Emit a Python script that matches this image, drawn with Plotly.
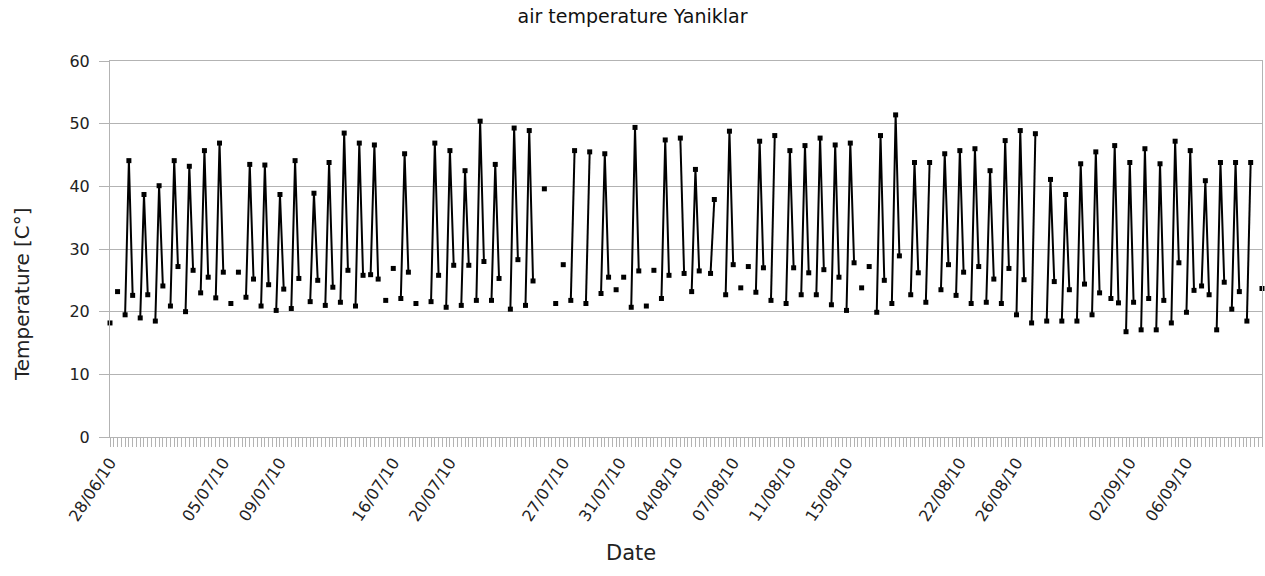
import plotly.graph_objects as go

# Air temperature readings at Yaniklar, one value per reading slot (None = no reading)
temperature = [
    18.2, None, 23.2, None, 19.5, 44.1, 22.6, None, 19.0, 38.7,
    22.7, None, 18.5, 40.1, 24.1, None, 20.9, 44.1, 27.2, None,
    20.0, 43.2, 26.6, None, 23.0, 45.7, 25.5, None, 22.2, 46.9,
    26.3, None, 21.3, None, 26.3, None, 22.3, 43.5, 25.2, None,
    20.9, 43.4, 24.3, None, 20.2, 38.7, 23.6, None, 20.5, 44.1,
    25.3, None, None, 21.6, 38.9, 25.0, None, 21.0, 43.8, 23.9,
    None, 21.5, 48.5, 26.6, None, 20.9, 46.9, 25.8, None, 25.9,
    46.6, 25.2, None, 21.8, None, 26.9, None, 22.1, 45.2, 26.3,
    None, 21.3, None, None, None, 21.6, 46.9, 25.8, None, 20.7,
    45.7, 27.4, None, 21.0, 42.5, 27.4, None, 21.8, 50.4, 28.0,
    None, 21.8, 43.5, 25.3, None, None, 20.4, 49.3, 28.3, None,
    21.0, 48.9, 24.9, None, None, 39.6, None, None, 21.3, None,
    27.5, None, 21.8, 45.7, None, None, 21.3, 45.5, None, None,
    22.9, 45.2, 25.5, None, 23.5, None, 25.5, None, 20.7, 49.4,
    26.5, None, 20.9, None, 26.6, None, 22.1, 47.4, 25.8, None,
    None, 47.7, 26.1, None, 23.2, 42.7, 26.5, None, None, 26.1,
    37.9, None, None, 22.7, 48.8, 27.5, None, 23.8, None, 27.2,
    None, 23.1, 47.2, 27.0, None, 21.8, 48.1, None, None, 21.3,
    45.7, 27.0, None, 22.7, 46.5, 26.2, None, 22.7, 47.7, 26.7,
    None, 21.1, 46.6, 25.5, None, 20.2, 46.9, 27.8, None, 23.8,
    None, 27.2, None, 19.9, 48.1, 25.0, None, 21.3, 51.4, 28.9,
    None, None, 22.7, 43.8, 26.2, None, 21.5, 43.8, None, None,
    23.5, 45.2, 27.5, None, 22.6, 45.7, 26.3, None, 21.3, 46.0,
    27.2, None, 21.5, 42.5, 25.2, None, 21.3, 47.3, 26.9, None,
    19.5, 48.9, 25.1, None, 18.2, 48.4, None, None, 18.5, 41.1,
    24.8, None, 18.5, 38.7, 23.5, None, 18.5, 43.6, 24.4, None,
    19.5, 45.5, 23.0, None, None, 22.1, 46.5, 21.4, None, 16.8,
    43.8, 21.5, None, 17.1, 46.0, 22.1, None, 17.1, 43.6, 21.8,
    None, 18.2, 47.2, 27.8, None, 19.9, 45.7, 23.4, None, 24.1,
    40.9, 22.7, None, 17.1, 43.8, 24.7, None, 20.4, 43.8, 23.2,
    None, 18.5, 43.8, None, None, 23.7,
]

# Reading slots (category axis) and the date shown under some of them
reading_slot = list(range(len(temperature)))
date_label_slots = [0, 30, 45, 75, 90, 120, 135, 150, 165, 180, 195, 225, 240, 270, 285]
date_labels = [
    "28/06/10", "05/07/10", "09/07/10", "16/07/10", "20/07/10",
    "27/07/10", "31/07/10", "04/08/10", "07/08/10", "11/08/10",
    "15/08/10", "22/08/10", "26/08/10", "02/09/10", "06/09/10",
]

y_ticks = [0, 10, 20, 30, 40, 50, 60]

label_by_slot = dict(zip(date_label_slots, date_labels))
tick_text = [label_by_slot.get(s, "") for s in reading_slot]

GRID = "#b3b3b3"
FONT = "DejaVu Sans"

fig = go.Figure()
fig.add_trace(go.Scatter(
    x=reading_slot,
    y=temperature,
    mode="lines+markers",
    connectgaps=False,
    line=dict(color="#000000", width=2),
    marker=dict(symbol="square", size=5, color="#000000"),
    cliponaxis=False,
    hoverinfo="x+y",
))

fig.update_layout(
    width=1265,
    height=576,
    margin=dict(l=110, r=3, t=61, b=139),
    paper_bgcolor="white",
    plot_bgcolor="white",
    showlegend=False,
    title=dict(
        text="air temperature Yaniklar",
        x=0.5, xanchor="center",
        y=1 - 16 / 576, yanchor="middle", yref="container",
        font=dict(family=FONT, size=19, color="#111111"),
    ),
    font=dict(family=FONT, color="#222222"),
)

fig.update_xaxes(
    range=[0, len(temperature) - 1],
    tickmode="array",
    tickvals=reading_slot,
    ticktext=tick_text,
    tickangle=-57,
    ticks="outside",
    ticklen=9,
    tickwidth=1,
    tickcolor=GRID,
    tickfont=dict(family=FONT, size=16, color="#222222"),
    showgrid=False,
    zeroline=False,
    showline=True,
    linecolor=GRID,
    linewidth=1,
    mirror=True,
)

fig.update_yaxes(
    range=[0, 60],
    tickmode="array",
    tickvals=y_ticks,
    ticks="outside",
    ticklen=10,
    tickwidth=1,
    tickcolor=GRID,
    ticklabelstandoff=6,
    tickfont=dict(family=FONT, size=16, color="#222222"),
    showgrid=True,
    gridcolor=GRID,
    gridwidth=1,
    zeroline=False,
    showline=True,
    linecolor=GRID,
    linewidth=1,
    mirror=True,
)

fig.add_annotation(
    text="Temperature [C°]", textangle=-90,
    xref="paper", yref="paper", x=(22 - 110) / 1152, y=(437 - 294) / 376,
    xanchor="center", yanchor="middle", showarrow=False,
    font=dict(family=FONT, size=20, color="#222222"),
)
fig.add_annotation(
    text="Date",
    xref="paper", yref="paper", x=(631 - 110) / 1152, y=(437 - 553) / 376,
    xanchor="center", yanchor="middle", showarrow=False,
    font=dict(family=FONT, size=21, color="#222222"),
)

fig.write_html("out.html")
